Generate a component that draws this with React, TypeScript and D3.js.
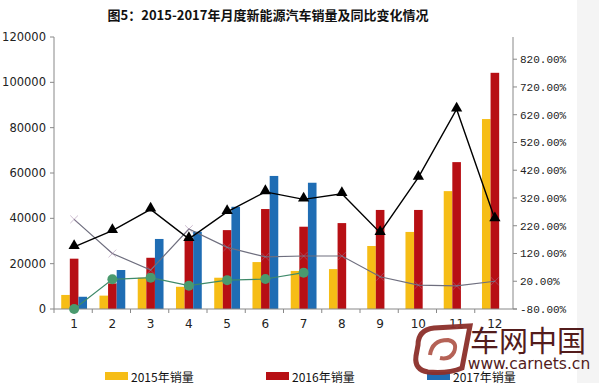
import React from "react";
import * as d3 from "d3";

const months = ["1", "2", "3", "4", "5", "6", "7", "8", "9", "10", "11", "12"];
const sales2015 = [6200, 5900, 13800, 9800, 13800, 20700, 16800, 17600, 27800, 34000, 52000, 83800];
const sales2016 = [22200, 11300, 22600, 31200, 34800, 44100, 36300, 37900, 43700, 43700, 64800, 104200];
const sales2017 = [5400, 17200, 30900, 34100, 45100, 58700, 55700];
const yoyBlack = [144, 202, 279, 173, 270, 342, 315, 335, 195, 394, 640, 244];
const yoyGray = [243, 120, 60, 208, 142, 108, 111, 111, 36, 6, 3, 20];
const yoyGreen = [-80, 27, 33, 4, 24, 28, 51];
const leftTicks = [0, 20000, 40000, 60000, 80000, 100000, 120000];
const rightTicks = [-80, 20, 120, 220, 320, 420, 520, 620, 720, 820];
const legendNames = ["2015年销量", "2016年销量", "2017年销量"];
const title = "图5：2015-2017年月度新能源汽车销量及同比变化情况";

const C15 = "#f6bd16";
const C16 = "#b70f14";
const C17 = "#1f6db4";

export default function App() {
  const W = 599, H = 383;
  const left = 54, right = 513, top = 37, bottom = 309;
  const x = d3.scaleBand<string>().domain(months).range([left, right]);
  const yL = d3.scaleLinear().domain([0, 120000]).range([bottom, top]);
  const yR = d3.scaleLinear().domain([-80, 900]).range([bottom, top]);
  const bw = 8.6;
  const cx = (i: number) => (x(months[i]) as number) + x.bandwidth() / 2 + 1;
  const line = d3.line<number>().x((_, i) => cx(i)).y((d) => yR(d));
  const seriesBars = [sales2015, sales2016, sales2017];
  const colors = [C15, C16, C17];
  const font = "'DejaVu Sans', 'Noto Sans CJK SC', sans-serif";
  const tri = d3.symbol().type(d3.symbolTriangle).size(55)();
  const cross = d3.symbol().type(d3.symbolX).size(40)();

  return (
    <svg width={W} height={H} style={{ position: "absolute", left: 0, top: 0, background: "#fff" }}>
      <rect x={0} y={0} width={W} height={H} fill="#fff" />
      <rect x={577} y={0} width={22} height={H} fill="#f4f4f4" />
      <text x={268} y={20} textAnchor="middle" fontSize={13} fontWeight="bold" fontFamily="'Noto Sans CJK SC', sans-serif" fill="#111">{title}</text>

      {/* bars */}
      {seriesBars.map((s, si) =>
        s.map((v, i) => (
          <rect key={`b${si}-${i}`} x={cx(i) - 1.5 * bw + si * bw} y={yL(v)} width={bw} height={bottom - yL(v)} fill={colors[si]} />
        ))
      )}

      {/* axes */}
      <line x1={left} x2={left} y1={top} y2={bottom} stroke="#888" />
      <line x1={right} x2={right} y1={top} y2={bottom} stroke="#888" />
      <line x1={left} x2={right + 4} y1={bottom} y2={bottom} stroke="#888" />
      {leftTicks.map((t) => (
        <g key={`l${t}`}>
          <line x1={left - 4} x2={left} y1={yL(t)} y2={yL(t)} stroke="#888" />
          <text x={left - 8} y={yL(t) + 4} textAnchor="end" fontSize={11.5} fontFamily={font} fill="#222">{t}</text>
        </g>
      ))}
      {rightTicks.map((t) => (
        <g key={`r${t}`}>
          <line x1={right} x2={right + 4} y1={yR(t)} y2={yR(t)} stroke="#888" />
          <text x={right + 7} y={yR(t) + 4} fontSize={11} fontFamily="'Liberation Mono', 'DejaVu Sans Mono', monospace" fill="#222">{t.toFixed(2) + "%"}</text>
        </g>
      ))}
      {months.map((m, i) => (
        <g key={`x${m}`}>
          <line x1={x(m) as number} x2={x(m) as number} y1={bottom} y2={bottom + 4} stroke="#888" />
          <text x={cx(i)} y={328} textAnchor="middle" fontSize={12} fontFamily={font} fill="#222">{m}</text>
        </g>
      ))}

      {/* lines */}
      <path d={line(yoyGray) || ""} fill="none" stroke="#6e6e7e" strokeWidth={1.2} />
      {yoyGray.map((v, i) => (
        <path key={`gx${i}`} d={cross || ""} transform={`translate(${cx(i)},${yR(v)})`} fill="#d9a0c6" stroke="#9a7aa0" strokeWidth={0.5} />
      ))}
      <path d={line(yoyGreen) || ""} fill="none" stroke="#3f8a6a" strokeWidth={1.2} />
      {yoyGreen.map((v, i) => (
        <circle key={`gc${i}`} cx={cx(i)} cy={yR(v)} r={5} fill="#4a9a6e" />
      ))}
      <path d={line(yoyBlack) || ""} fill="none" stroke="#000" strokeWidth={1.4} />
      {yoyBlack.map((v, i) => (
        <path key={`bt${i}`} d={tri || ""} transform={`translate(${cx(i)},${yR(v) - 1})`} fill="#000" />
      ))}

      {/* legend */}
      {legendNames.map((n, i) => (
        <g key={n}>
          <rect x={105 + i * 161} y={372} width={23} height={8} fill={colors[i]} />
          <text x={131 + i * 161} y={382} fontSize={12} fontFamily="'Noto Sans CJK SC', sans-serif" fill="#111">{n}</text>
        </g>
      ))}

      {/* watermark */}
      <g opacity={0.95}>
        <path d="M418,345 Q418,330 434,328 L470,326 L462,368 Q448,374 428,372 Q414,370 416,356 Z" fill="none" stroke="#8c2f2a" strokeWidth={5} />
        <path d="M430,355 Q432,340 448,340 Q458,342 454,352 Q450,360 440,358" fill="none" stroke="#b25a4e" strokeWidth={4} />
        <text x={528} y={352} textAnchor="middle" fontSize={29} fontFamily="'Noto Sans CJK SC', sans-serif" fill="#4a1010">车网中国</text>
        <text x={529} y={369} textAnchor="middle" fontSize={15.5} fontFamily="'DejaVu Sans', sans-serif" fill="#4a1010">www.carnets.cn</text>
      </g>
    </svg>
  );
}
